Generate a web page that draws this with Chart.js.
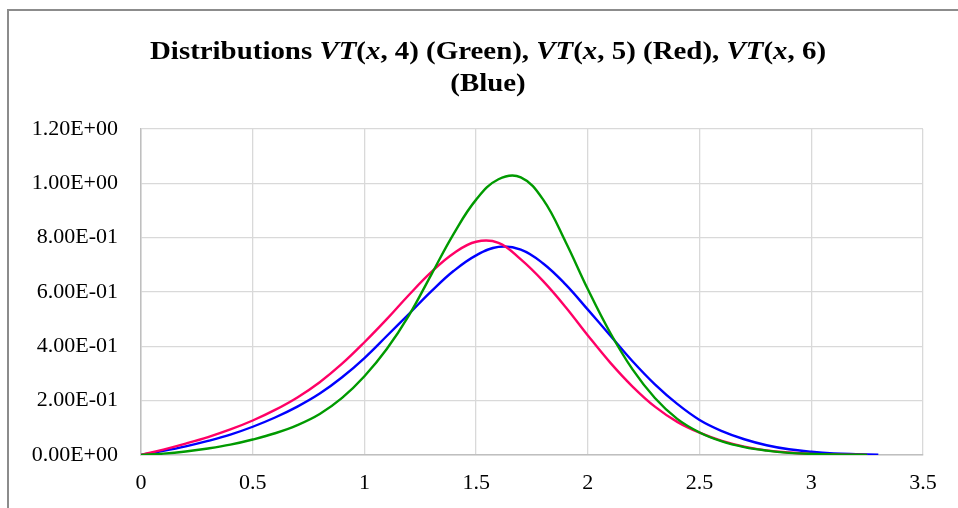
<!DOCTYPE html>
<html><head><meta charset="utf-8">
<script src="https://cdn.jsdelivr.net/npm/chart.js@4/dist/chart.umd.min.js"></script>
<style>html,body{margin:0;padding:0;background:#fff;overflow:hidden}#wrap{width:958px;height:508px;position:relative}canvas{display:block}</style>
</head><body><div id="wrap"><canvas id="c" width="958" height="508" style="width:958px;height:508px"></canvas></div>
<script>
// Title pieces: [text, italic]
const titleLine1 = [["Distributions ",false],["VT",true],["(",false],["x",true],[", 4) (Green), ",false],["VT",true],["(",false],["x",true],[", 5) (Red), ",false],["VT",true],["(",false],["x",true],[", 6)",false]];
const titleLine2 = [["(Blue)",false]];

const seriesNames = ["VT(x, 4)", "VT(x, 5)", "VT(x, 6)"];

const xGreen = [0,0.1,0.2,0.3,0.4,0.5,0.6,0.7,0.8,0.9,1.0,1.1,1.2,1.3,1.4,1.5,1.6,1.7,1.8,1.9,2.0,2.1,2.2,2.3,2.4,2.5,2.6,2.7,2.8,2.9,3.0,3.1,3.2,3.25];
const yGreen = [0,0.005,0.013,0.024,0.038,0.057,0.08,0.11,0.151,0.21,0.29,0.39,0.515,0.665,0.815,0.94,1.015,1.022,0.94,0.785,0.61,0.45,0.315,0.21,0.133,0.083,0.05,0.029,0.016,0.008,0.004,0.002,0.001,0.0005];

const xRed = [0,0.1,0.2,0.3,0.4,0.5,0.6,0.7,0.8,0.9,1.0,1.1,1.2,1.3,1.4,1.5,1.6,1.7,1.8,1.9,2.0,2.1,2.2,2.3,2.4,2.5,2.6,2.7,2.8,2.9,3.0,3.1,3.2,3.25];
const yRed = [0,0.02,0.042,0.066,0.094,0.127,0.166,0.212,0.268,0.336,0.415,0.500,0.590,0.674,0.743,0.785,0.781,0.72,0.640,0.545,0.440,0.340,0.252,0.178,0.122,0.082,0.052,0.031,0.017,0.009,0.004,0.002,0.001,0.0005];

const xBlue = [0,0.1,0.2,0.3,0.4,0.5,0.6,0.7,0.8,0.9,1.0,1.1,1.2,1.3,1.4,1.5,1.6,1.7,1.8,1.9,2.0,2.1,2.2,2.3,2.4,2.5,2.6,2.7,2.8,2.9,3.0,3.1,3.2,3.3];
const yBlue = [0,0.015,0.032,0.052,0.075,0.104,0.138,0.178,0.226,0.286,0.357,0.438,0.52,0.603,0.678,0.735,0.766,0.756,0.705,0.628,0.535,0.44,0.345,0.26,0.188,0.129,0.088,0.058,0.036,0.021,0.012,0.006,0.003,0.001];

const xTickValues = [0,0.5,1,1.5,2,2.5,3,3.5];
const yTickValues = [0,0.2,0.4,0.6,0.8,1.0,1.2];
const yTickLabels = ["0.00E+00","2.00E-01","4.00E-01","6.00E-01","8.00E-01","1.00E+00","1.20E+00"];

const pts = (xs, ys) => xs.map((x, i) => ({x: x, y: ys[i]}));

const FONT = "'Liberation Serif','Times New Roman',serif";

const framePlugin = {
  id: 'frame',
  beforeDraw(chart) {
    const ctx = chart.ctx;
    ctx.save();
    ctx.fillStyle = '#fff';
    ctx.fillRect(0, 0, chart.width, chart.height);
    ctx.strokeStyle = '#8c8c8c';
    ctx.lineWidth = 2;
    ctx.strokeRect(8, 10, chart.width + 20, chart.height + 20);
    ctx.restore();
  }
};

const richTitlePlugin = {
  id: 'richTitle',
  afterDraw(chart) {
    const ctx = chart.ctx;
    const size = 26;
    const cx = 488;
    const targetWidth1 = 676;
    const fontOf = (it) => (it ? 'italic ' : '') + 'bold ' + size + 'px ' + FONT;
    const widthOf = (segs) => { let w = 0; for (const [t, it] of segs) { ctx.font = fontOf(it); w += ctx.measureText(t).width; } return w; };
    ctx.save();
    const sx = targetWidth1 / widthOf(titleLine1);
    const lines = [[titleLine1, 52], [titleLine2, 84]];
    ctx.fillStyle = '#000';
    ctx.textBaseline = 'middle';
    ctx.textAlign = 'left';
    for (const [segs, y] of lines) {
      const w = widthOf(segs);
      ctx.save();
      ctx.translate(cx, y);
      ctx.scale(sx, 1);
      let x = -w / 2;
      for (const [t, it] of segs) { ctx.font = fontOf(it); ctx.fillText(t, x, 0); x += ctx.measureText(t).width; }
      ctx.restore();
    }
    ctx.restore();
  }
};

new Chart(document.getElementById('c'), {
  type: 'scatter',
  data: {
    datasets: [
      {label: seriesNames[0], data: pts(xGreen, yGreen), borderColor: '#009a00', backgroundColor: '#009a00'},
      {label: seriesNames[1], data: pts(xRed, yRed), borderColor: '#ff0066', backgroundColor: '#ff0066'},
      {label: seriesNames[2], data: pts(xBlue, yBlue), borderColor: '#0000ff', backgroundColor: '#0000ff'}
    ]
  },
  options: {
    responsive: false,
    animation: false,
    devicePixelRatio: 1,
    showLine: true,
    elements: {
      point: {radius: 0, hoverRadius: 0},
      line: {borderWidth: 2.4, tension: 0.4, cubicInterpolationMode: 'default', fill: false}
    },
    layout: {padding: {left: 0, right: 35, top: 129, bottom: 0}},
    plugins: {legend: {display: false}, title: {display: false}, tooltip: {enabled: false}},
    scales: {
      x: {
        type: 'linear', min: 0, max: 3.5,
        afterBuildTicks(s) { s.ticks = xTickValues.map(v => ({value: v})); },
        afterFit(s) { s.height = 53; },
        grid: {color: '#d9d9d9', lineWidth: 1.3, drawTicks: false},
        border: {color: '#bfbfbf', width: 1.5},
        ticks: {padding: 15, color: '#000', font: {family: FONT, size: 22}, maxRotation: 0, callback: v => String(v)}
      },
      y: {
        type: 'linear', min: 0, max: 1.2,
        afterBuildTicks(s) { s.ticks = yTickValues.map(v => ({value: v})); },
        afterFit(s) { s.width = 141; },
        grid: {color: '#d9d9d9', lineWidth: 1.3, drawTicks: false},
        border: {color: '#bfbfbf', width: 1.5},
        ticks: {padding: 23, color: '#000', font: {family: FONT, size: 22},
          callback: (v) => { const i = yTickValues.findIndex(t => Math.abs(t - v) < 1e-9); return i >= 0 ? yTickLabels[i] : ''; }}
      }
    }
  },
  plugins: [framePlugin, richTitlePlugin]
});
</script>
</body></html>
